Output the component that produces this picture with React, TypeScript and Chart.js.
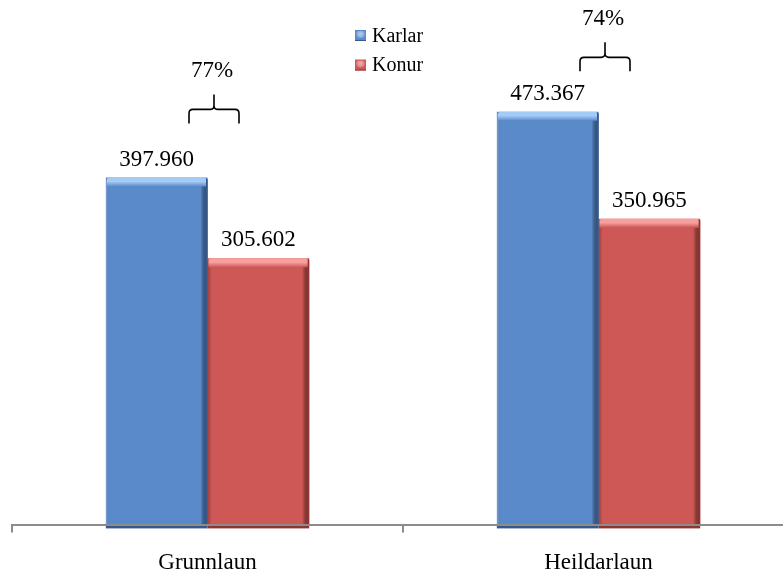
import React, { useEffect, useRef } from "react";
import { Chart, registerables } from "chart.js";

Chart.register(...registerables);

const categories = ["Grunnlaun", "Heildarlaun"];
const seriesNames = ["Karlar", "Konur"];
const karlar = [397960, 473367];
const konur = [305602, 350965];
// y level (data units) of the brace above each category
const bracketLevels = [476000, 535500];

const mainColors = ["#5A8ACA", "#CD5856"];
const lightColors = ["#A4CAF6", "#F7A09E"];
const darkColors = ["#36598C", "#8E3533"];

const FONT = '"Liberation Serif", "Times New Roman", serif';

const fmt = (v: number) => String(v).replace(/\B(?=(\d{3})+(?!\d))/g, ".");

const decorPlugin = {
  id: "decor",
  afterDatasetsDraw(chart: any) {
    const ctx: CanvasRenderingContext2D = chart.ctx;
    const xScale = chart.scales.x;
    const yScale = chart.scales.y;
    ctx.save();
    // bevel on bars
    chart.data.datasets.forEach((ds: any, di: number) => {
      const meta = chart.getDatasetMeta(di);
      meta.data.forEach((bar: any, idx: number) => {
        const { x, y, base, width } = bar.getProps(["x", "y", "base", "width"], true);
        const left = x - width / 2;
        const right = x + width / 2;
        const h = base - y;
        // right dark edge
        const gr = ctx.createLinearGradient(right - 7, 0, right, 0);
        gr.addColorStop(0, "rgba(0,0,0,0)");
        gr.addColorStop(1, darkColors[di]);
        ctx.fillStyle = gr;
        ctx.fillRect(right - 7, y + 2, 7, h - 2);
        // left subtle edge
        const gl = ctx.createLinearGradient(left, 0, left + 4, 0);
        gl.addColorStop(0, di === 0 ? "rgba(255,255,255,0.25)" : "rgba(90,20,20,0.35)");
        gl.addColorStop(1, "rgba(0,0,0,0)");
        ctx.fillStyle = gl;
        ctx.fillRect(left, y + 2, 4, h - 2);
        // top highlight
        const gt = ctx.createLinearGradient(0, y, 0, y + 9);
        gt.addColorStop(0, lightColors[di]);
        gt.addColorStop(0.45, lightColors[di]);
        gt.addColorStop(1, mainColors[di]);
        ctx.fillStyle = gt;
        ctx.beginPath();
        ctx.moveTo(left + 1, y + 9);
        ctx.lineTo(left + 1, y + 3);
        ctx.quadraticCurveTo(left + 1, y, left + 4, y);
        ctx.lineTo(right - 4, y);
        ctx.quadraticCurveTo(right - 1, y, right - 1, y + 3);
        ctx.lineTo(right - 1, y + 9);
        ctx.closePath();
        ctx.fill();
        ctx.fillStyle = darkColors[di];
        ctx.fillRect(right - 1.5, y + 1, 1.5, h - 1);
        // bottom dark edge
        ctx.fillStyle = darkColors[di];
        ctx.fillRect(left, base, width, 3);
        // value label
        ctx.fillStyle = "#000";
        ctx.font = `23px ${FONT}`;
        ctx.textAlign = "center";
        ctx.textBaseline = "alphabetic";
        ctx.fillText(fmt(ds.data[idx]), x, y - 12);
      });
    });

    // braces with percentage
    categories.forEach((_, i) => {
      const cx = xScale.getPixelForValue(i) + 6.5;
      const yb = yScale.getPixelForValue(bracketLevels[i]);
      const hw = 25;
      const r = 4;
      const L = cx - hw;
      const R = cx + hw;
      ctx.strokeStyle = "#000";
      ctx.lineWidth = 1.6;
      ctx.beginPath();
      ctx.moveTo(L, yb + 14);
      ctx.lineTo(L, yb + r);
      ctx.quadraticCurveTo(L, yb, L + r, yb);
      ctx.lineTo(cx - r, yb);
      ctx.quadraticCurveTo(cx, yb, cx, yb - r);
      ctx.lineTo(cx, yb - 15);
      ctx.moveTo(R, yb + 14);
      ctx.lineTo(R, yb + r);
      ctx.quadraticCurveTo(R, yb, R - r, yb);
      ctx.lineTo(cx + r, yb);
      ctx.quadraticCurveTo(cx, yb, cx, yb - r);
      ctx.stroke();
      const pct = Math.round((konur[i] / karlar[i]) * 100) + "%";
      ctx.fillStyle = "#000";
      ctx.font = `23px ${FONT}`;
      ctx.textAlign = "center";
      ctx.textBaseline = "alphabetic";
      ctx.fillText(pct, cx - 2, yb - 32);
    });

    // legend
    seriesNames.forEach((name, i) => {
      const sx = 355;
      const sy = 30 + i * 29.5;
      ctx.fillStyle = mainColors[i];
      ctx.fillRect(sx, sy, 11, 11);
      const g = ctx.createRadialGradient(sx + 5.5, sy + 4, 0, sx + 5.5, sy + 4, 5);
      g.addColorStop(0, lightColors[i]);
      g.addColorStop(1, "rgba(255,255,255,0)");
      ctx.fillStyle = g;
      ctx.fillRect(sx + 1, sy + 1, 9, 7);
      ctx.fillStyle = darkColors[i];
      ctx.fillRect(sx, sy + 10, 11, 1);
      ctx.fillStyle = "#000";
      ctx.font = `20px ${FONT}`;
      ctx.textAlign = "left";
      ctx.textBaseline = "middle";
      ctx.fillText(name, sx + 17, sy + 6.5);
    });
    ctx.restore();
  },
};

export default function App() {
  const ref = useRef<HTMLCanvasElement>(null);
  useEffect(() => {
    if (!ref.current) return;
    const chart = new Chart(ref.current, {
      type: "bar",
      data: {
        labels: categories,
        datasets: [
          {
            label: seriesNames[0],
            data: karlar,
            backgroundColor: mainColors[0],
            borderWidth: 0,
            categoryPercentage: 0.52,
            barPercentage: 1,
          },
          {
            label: seriesNames[1],
            data: konur,
            backgroundColor: mainColors[1],
            borderWidth: 0,
            categoryPercentage: 0.52,
            barPercentage: 1,
          },
        ],
      },
      options: {
        responsive: false,
        animation: false,
        layout: { padding: { left: 12, right: 6, top: 1, bottom: 0 } },
        plugins: { legend: { display: false }, tooltip: { enabled: false } },
        scales: {
          x: {
            offset: true,
            grid: {
              display: true,
              offset: true,
              drawOnChartArea: false,
              drawTicks: true,
              tickLength: 7,
              color: "#8C8C8C",
              lineWidth: 2,
            },
            border: { display: true, color: "#8C8C8C", width: 2, z: 1 },
            ticks: { color: "#000", font: { family: FONT, size: 23 }, padding: 17 },
          },
          y: { display: false, min: 0, max: 600000 },
        },
      },
      plugins: [decorPlugin],
    });
    return () => chart.destroy();
  }, []);
  return (
    <div
      style={{
        position: "fixed",
        left: 0,
        top: 0,
        width: 783,
        height: 571,
        overflow: "hidden",
        background: "#fff",
      }}
    >
      <canvas ref={ref} width={800} height={594} style={{ display: "block" }} />
    </div>
  );
}
